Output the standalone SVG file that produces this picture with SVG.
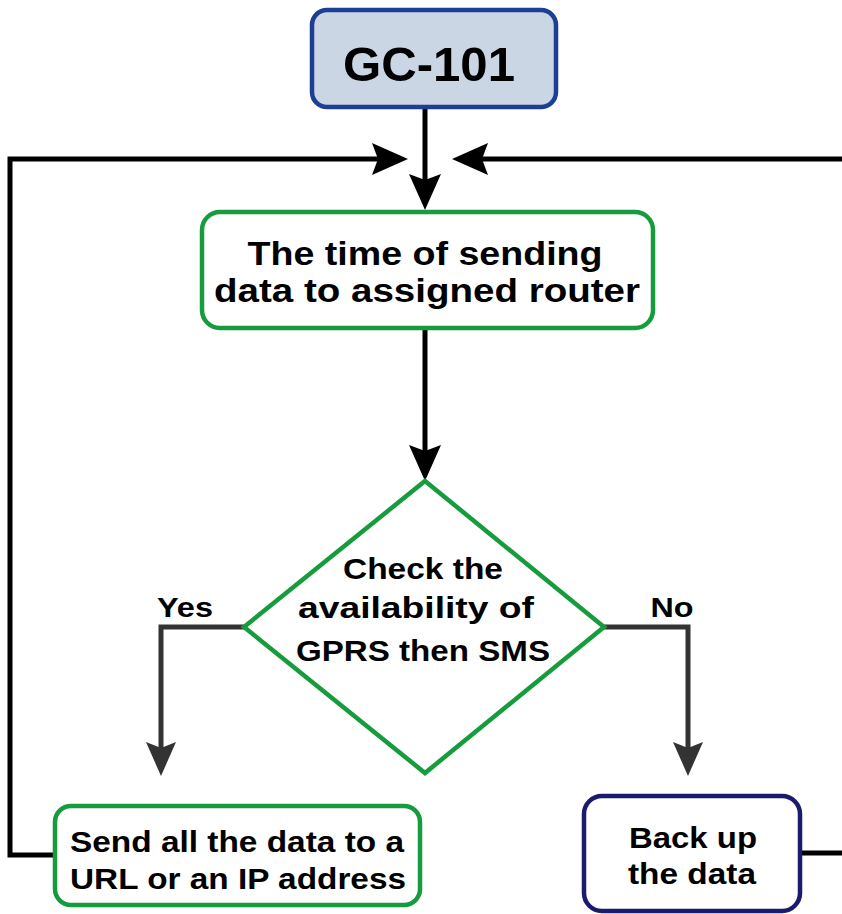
<svg xmlns="http://www.w3.org/2000/svg" width="842" height="914" viewBox="0 0 842 914">
<style>
.t{font-family:"Liberation Sans",Arial,sans-serif;font-weight:bold;fill:#000;text-anchor:middle}
.green{fill:#fff;stroke:#169c3c;stroke-width:4.5}
.conn{fill:none;stroke:#000;stroke-width:5}
.conng{fill:none;stroke:#333;stroke-width:5}
</style>
<defs>
<marker id="ah" markerUnits="userSpaceOnUse" markerWidth="40" markerHeight="34" refX="6" refY="16" orient="auto" overflow="visible">
<path d="M0,0 L36,16 L0,32 L6,16 Z" fill="#000"/>
</marker>
<marker id="ahg" markerUnits="userSpaceOnUse" markerWidth="40" markerHeight="34" refX="6" refY="15" orient="auto" overflow="visible">
<path d="M0,0 L34,15 L0,30 L6,15 Z" fill="#333"/>
</marker>
</defs>
<g id="connectors">
<path class="conn" d="M425,108 V180" marker-end="url(#ah)"/>
<path class="conn" d="M55,855 H10 V159 H378" marker-end="url(#ah)"/>
<path class="conn" d="M800,853 H850 V159 H482" marker-end="url(#ah)"/>
<path class="conn" d="M425,328 V451" marker-end="url(#ah)"/>
<path class="conng" d="M244,627 H161 V748" marker-end="url(#ahg)"/>
<path class="conng" d="M604,627 H688 V748" marker-end="url(#ahg)"/>
<text class="t" x="185" y="617" font-size="28" textLength="56" lengthAdjust="spacingAndGlyphs">Yes</text>
<text class="t" x="672" y="617" font-size="28" textLength="43" lengthAdjust="spacingAndGlyphs">No</text>
</g>
<g id="gc101">
<rect x="312" y="10" width="244" height="97" rx="15" fill="#cad6e3" stroke="#1c3f94" stroke-width="4.5"/>
<text class="t" x="429" y="81" font-size="49" textLength="172" lengthAdjust="spacingAndGlyphs">GC-101</text>
</g>
<g id="time">
<rect class="green" x="202" y="212" width="451" height="116" rx="18"/>
<text class="t" x="425" y="265" font-size="33" textLength="355" lengthAdjust="spacingAndGlyphs">The time of sending</text>
<text class="t" x="427" y="302" font-size="33" textLength="426" lengthAdjust="spacingAndGlyphs">data to assigned router</text>
</g>
<g id="check">
<polygon class="green" points="425,481 604,627 425,773 244,627"/>
<text class="t" x="423" y="579" font-size="30" textLength="160" lengthAdjust="spacingAndGlyphs">Check the</text>
<text class="t" x="416" y="618" font-size="30" textLength="236" lengthAdjust="spacingAndGlyphs">availability of</text>
<text class="t" x="423" y="661" font-size="30" textLength="254" lengthAdjust="spacingAndGlyphs">GPRS then SMS</text>
</g>
<g id="send">
<rect class="green" x="55" y="806" width="365" height="99" rx="16"/>
<text class="t" x="237" y="852" font-size="30" textLength="334" lengthAdjust="spacingAndGlyphs">Send all the data to a</text>
<text class="t" x="238" y="889" font-size="30" textLength="336" lengthAdjust="spacingAndGlyphs">URL or an IP address</text>
</g>
<g id="backup">
<rect x="584" y="796" width="216" height="115" rx="18" fill="#fff" stroke="#1b1b6b" stroke-width="4.5"/>
<text class="t" x="693" y="848" font-size="30" textLength="128" lengthAdjust="spacingAndGlyphs">Back up</text>
<text class="t" x="692" y="884" font-size="30" textLength="128" lengthAdjust="spacingAndGlyphs">the data</text>
</g>
</svg>
